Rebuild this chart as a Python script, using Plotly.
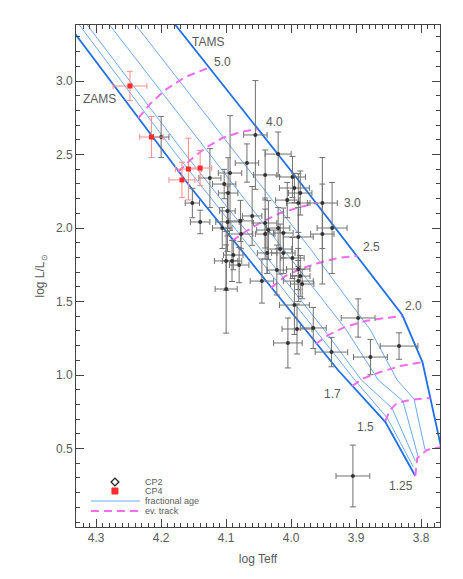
import plotly.graph_objects as go

# CP2 stars (log Teff, log L) with errors
cp2_logT = [4.200, 4.125, 4.103, 4.094, 4.055, 4.020, 4.068, 4.040, 3.998, 3.995,
            3.986, 4.006, 4.097, 4.152, 4.140, 4.098, 4.098, 4.106, 4.078, 4.077,
            4.089, 4.100, 4.091, 4.080, 4.100, 4.060, 3.952, 3.937, 3.952, 3.989,
            4.040, 4.035, 4.040, 4.020, 4.012, 3.989, 4.037, 4.017, 4.012, 3.998,
            4.022, 3.989, 3.986, 3.989, 4.045, 3.983, 3.995, 3.991, 3.966, 4.005,
            3.938, 3.897, 3.878, 3.834, 3.905]
cp2_logL = [2.619, 2.340, 2.299, 2.374, 2.633, 2.503, 2.442, 2.361, 2.347, 2.272,
            2.238, 2.190, 2.238, 2.170, 2.041, 2.116, 2.041, 2.000, 2.048, 1.959,
            1.816, 1.776, 1.776, 1.748, 1.585, 2.082, 2.170, 2.000, 1.959, 2.170,
            2.034, 1.986, 1.959, 2.000, 1.966, 1.939, 1.830, 1.857, 1.830, 1.796,
            1.714, 1.721, 1.673, 1.639, 1.639, 1.619, 1.476, 1.313, 1.320, 1.218,
            1.156, 1.388, 1.122, 1.197, 0.313]
cp2_errT = [0.012, 0.017, 0.018, 0.018, 0.018, 0.020, 0.018, 0.018, 0.020, 0.023,
            0.018, 0.018, 0.015, 0.011, 0.015, 0.012, 0.018, 0.015, 0.018, 0.018,
            0.015, 0.018, 0.015, 0.015, 0.017, 0.015, 0.023, 0.023, 0.018, 0.018,
            0.018, 0.018, 0.015, 0.018, 0.015, 0.023, 0.015, 0.018, 0.018, 0.018,
            0.015, 0.018, 0.015, 0.023, 0.018, 0.018, 0.023, 0.023, 0.020, 0.022,
            0.025, 0.026, 0.026, 0.029, 0.026]
cp2_errL = [0.14, 0.20, 0.10, 0.39, 0.37, 0.15, 0.13, 0.17, 0.14, 0.10,
            0.15, 0.12, 0.24, 0.10, 0.08, 0.17, 0.20, 0.14, 0.14, 0.10,
            0.10, 0.20, 0.14, 0.12, 0.30, 0.20, 0.31, 0.31, 0.34, 0.20,
            0.17, 0.20, 0.17, 0.14, 0.17, 0.20, 0.14, 0.17, 0.14, 0.14,
            0.17, 0.14, 0.14, 0.14, 0.15, 0.10, 0.20, 0.17, 0.14, 0.17,
            0.10, 0.13, 0.12, 0.09, 0.21]

# CP4 stars
cp4_logT = [4.248, 4.215, 4.158, 4.140, 4.168]
cp4_logL = [2.966, 2.619, 2.401, 2.408, 2.327]
cp4_errT = [0.026, 0.018, 0.020, 0.018, 0.020]
cp4_errL = [0.10, 0.14, 0.21, 0.12, 0.12]

# ZAMS / TAMS
zams_T = [4.355, 4.331, 4.155, 4.048, 3.928, 3.855, 3.809]
zams_L = [3.456, 3.313, 2.279, 1.694, 1.034, 0.680, 0.313]
tams_T = [4.2015, 4.178, 3.989, 3.829, 3.798, 3.771, 3.765]
tams_L = [3.517, 3.381, 2.327, 1.408, 1.088, 0.544, 0.422]

# fractional age lines
frac_T = [[4.343, 4.182, 4.060, 3.962, 3.902, 3.852, 3.812],
          [4.331, 4.168, 4.046, 3.949, 3.892, 3.845, 3.809],
          [4.297, 4.131, 4.011, 3.915, 3.866, 3.828, 3.805],
          [4.257, 4.089, 3.969, 3.878, 3.837, 3.811, 3.794]]
frac_L = [[3.483, 2.531, 1.850, 1.306, 0.966, 0.707, 0.374],
          [3.483, 2.531, 1.850, 1.306, 0.966, 0.776, 0.415],
          [3.483, 2.531, 1.850, 1.306, 0.966, 0.823, 0.449],
          [3.483, 2.531, 1.850, 1.306, 0.966, 0.837, 0.490]]

# evolutionary tracks
track_mass = ["5.0", "4.0", "3.0", "2.5", "2.0", "1.7", "1.5", "1.25"]
track_T = [[4.235, 4.217, 4.194, 4.163, 4.128],
           [4.174, 4.155, 4.132, 4.106, 4.078, 4.052],
           [4.091, 4.071, 4.048, 4.017, 3.986, 3.960],
           [4.031, 4.009, 3.986, 3.958, 3.928, 3.898],
           [3.962, 3.943, 3.917, 3.886, 3.855, 3.829],
           [3.906, 3.891, 3.863, 3.832, 3.798],
           [3.855, 3.848, 3.837, 3.817, 3.786],
           [3.809, 3.806, 3.791, 3.769]]
track_L = [[2.748, 2.844, 2.939, 3.027, 3.088],
           [2.381, 2.463, 2.544, 2.612, 2.653, 2.673],
           [1.912, 1.973, 2.034, 2.102, 2.143, 2.170],
           [1.592, 1.673, 1.721, 1.762, 1.796, 1.810],
           [1.211, 1.272, 1.327, 1.367, 1.388, 1.401],
           [0.925, 0.973, 1.020, 1.061, 1.088],
           [0.687, 0.762, 0.810, 0.830, 0.844],
           [0.313, 0.435, 0.490, 0.510]]
label_T = [4.106, 4.026, 3.906, 3.877, 3.812, 3.937, 3.886, 3.831]
label_L = [3.129, 2.721, 2.170, 1.871, 1.469, 0.871, 0.646, 0.245]

y_ticks = [0.5, 1.0, 1.5, 2.0, 2.5, 3.0]
x_ticks = [4.3, 4.2, 4.1, 4.0, 3.9, 3.8]

BLUE = "#1f6fe8"
LBLUE = "#6ea8f2"
PINK = "#f46cf0"
GREY = "#5a5a5a"
FONT = "Liberation Sans, Arial, sans-serif"

fig = go.Figure()

for t, l in zip(frac_T, frac_L):
    fig.add_trace(go.Scatter(x=t, y=l, mode="lines", line=dict(color=LBLUE, width=1),
                             showlegend=False, hoverinfo="skip"))
fig.add_trace(go.Scatter(x=zams_T, y=zams_L, mode="lines", line=dict(color=BLUE, width=1.8),
                         showlegend=False))
fig.add_trace(go.Scatter(x=tams_T, y=tams_L, mode="lines", line=dict(color=BLUE, width=1.8),
                         showlegend=False))
for t, l in zip(track_T, track_L):
    fig.add_trace(go.Scatter(x=t, y=l, mode="lines", line=dict(color=PINK, width=2, dash="8px,5px"),
                             showlegend=False))

fig.add_trace(go.Scatter(
    x=cp2_logT, y=cp2_logL, mode="markers",
    marker=dict(symbol="circle", size=4, color="#333333"),
    error_x=dict(type="data", array=cp2_errT, color="#707070", thickness=1, width=3),
    error_y=dict(type="data", array=cp2_errL, color="#707070", thickness=1, width=3),
    showlegend=False))
fig.add_trace(go.Scatter(
    x=cp4_logT, y=cp4_logL, mode="markers",
    marker=dict(symbol="square", size=5, color="#ff2a2a"),
    error_x=dict(type="data", array=cp4_errT, color="#ff8c8c", thickness=1, width=3),
    error_y=dict(type="data", array=cp4_errL, color="#ff8c8c", thickness=1, width=3),
    showlegend=False))

# hand-made legend on an overlay axis (0..1 across the plot area)
fig.add_trace(go.Scatter(x=[0.107], y=[0.0896], xaxis="x2", yaxis="y2", mode="markers",
                         marker=dict(symbol="diamond-open", size=6, color="#222", line=dict(width=1.3)),
                         showlegend=False))
fig.add_trace(go.Scatter(x=[0.107], y=[0.0717], xaxis="x2", yaxis="y2", mode="markers",
                         marker=dict(symbol="square-x", size=6, color="#ff2a2a", line=dict(width=1, color="#ff2a2a")),
                         showlegend=False))
fig.add_trace(go.Scatter(x=[0.041, 0.176], y=[0.0518, 0.0518], xaxis="x2", yaxis="y2", mode="lines",
                         line=dict(color=LBLUE, width=1.2), showlegend=False))
fig.add_trace(go.Scatter(x=[0.041, 0.176], y=[0.0319, 0.0319], xaxis="x2", yaxis="y2", mode="lines",
                         line=dict(color=PINK, width=2, dash="8px,5px"), showlegend=False))

legend_text = ["CP2", "CP4", "fractional age", "ev. track"]
legend_y = [0.0896, 0.0717, 0.0518, 0.0319]
annotations = []
for txt, yy in zip(legend_text, legend_y):
    annotations.append(dict(x=0.184, y=yy, xref="x2", yref="y2", text=txt, showarrow=False,
                            xanchor="left", yanchor="middle", font=dict(size=9, color=GREY, family=FONT)))
for m, t, l in zip(track_mass, label_T, label_L):
    annotations.append(dict(x=t, y=l, text=m, showarrow=False, font=dict(size=12, color=GREY, family=FONT)))
annotations.append(dict(x=4.128, y=3.265, text="TAMS", showarrow=False, font=dict(size=12, color=GREY, family=FONT)))
annotations.append(dict(x=4.295, y=2.878, text="ZAMS", showarrow=False, font=dict(size=12, color=GREY, family=FONT)))

# page body adds 8px on the left/top, margins compensate for it
fig.update_layout(
    width=463, height=579,
    margin=dict(l=68, r=31, t=17, b=60),
    plot_bgcolor="white", paper_bgcolor="white",
    font=dict(family=FONT, size=12, color=GREY),
    annotations=annotations,
    xaxis=dict(range=[4.331, 3.771], tickmode="array", tickvals=x_ticks,
               ticktext=[f"{v:.1f}" for v in x_ticks],
               ticks="inside", ticklen=8, tickcolor="#444", showgrid=False, zeroline=False,
               showline=True, linecolor="#444", linewidth=1, mirror="allticks",
               minor=dict(tickmode="linear", tick0=4.0, dtick=0.01, ticklen=4, ticks="inside", tickcolor="#444"),
               title=dict(text="log Teff", font=dict(size=12, color=GREY), standoff=10),
               tickfont=dict(size=12, color=GREY)),
    yaxis=dict(range=[-0.034, 3.381], tickmode="array", tickvals=y_ticks,
               ticktext=[f"{v:.1f}" for v in y_ticks],
               ticks="inside", ticklen=8, tickcolor="#444", showgrid=False, zeroline=False,
               showline=True, linecolor="#444", linewidth=1, mirror="allticks",
               minor=dict(tickmode="linear", tick0=0.1, dtick=0.1, ticklen=4, ticks="inside", tickcolor="#444"),
               title=dict(text="log L/L<sub>⊙</sub>", font=dict(size=12, color=GREY), standoff=8),
               tickfont=dict(size=12, color=GREY)),
    xaxis2=dict(overlaying="x", range=[0, 1], visible=False, fixedrange=True),
    yaxis2=dict(overlaying="y", range=[0, 1], visible=False, fixedrange=True),
)

fig.write_html("out.html")
